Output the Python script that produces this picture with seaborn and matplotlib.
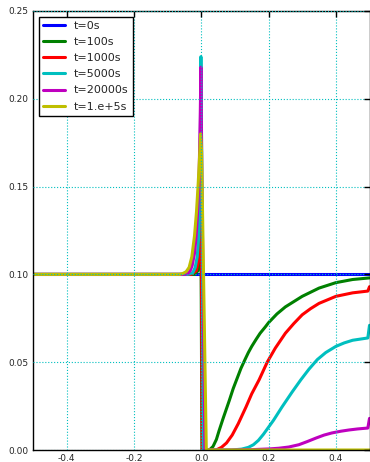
import matplotlib
matplotlib.use("Agg")
import matplotlib.pyplot as plt
import seaborn as sns
import pandas as pd

# series (x position, concentration)
labels = ["t=0s", "t=100s", "t=1000s", "t=5000s", "t=20000s", "t=1.e+5s"]
colors = ["#0000ff", "#008000", "#ff0000", "#00bfbf", "#bf00bf", "#bfbf00"]

x_t0 = [-0.5, 0.5]
y_t0 = [0.1, 0.1]

x_t100 = [-0.5, -0.02, -0.01, -0.005, -0.001, 0.002, 0.024, 0.035, 0.045, 0.053, 0.065,
          0.083, 0.095, 0.107, 0.118, 0.13, 0.14, 0.15, 0.163, 0.175, 0.19, 0.2, 0.225,
          0.25, 0.3, 0.35, 0.4, 0.45, 0.5]
y_t100 = [0.1, 0.1, 0.102, 0.107, 0.13, 0.0, 0.0, 0.002, 0.006, 0.011, 0.018,
          0.028, 0.035, 0.041, 0.0465, 0.0515, 0.0555, 0.059, 0.063, 0.0665, 0.070, 0.0725, 0.0775,
          0.0815, 0.0875, 0.0922, 0.0953, 0.0971, 0.098]

x_t1000 = [-0.5, -0.03, -0.015, -0.008, -0.004, -0.001, 0.003, 0.044, 0.06, 0.075, 0.092,
           0.11, 0.133, 0.15, 0.172, 0.196, 0.22, 0.25, 0.275, 0.3, 0.325, 0.35, 0.4,
           0.45, 0.495, 0.5]
y_t1000 = [0.1, 0.1, 0.102, 0.108, 0.125, 0.16, 0.0, 0.0, 0.0015, 0.004, 0.0085,
           0.015, 0.0245, 0.032, 0.040, 0.050, 0.058, 0.0665, 0.072, 0.077, 0.0805, 0.0835, 0.0875,
           0.0895, 0.0905, 0.093]

x_t5000 = [-0.5, -0.04, -0.025, -0.018, -0.012, -0.008, -0.005, -0.003, -0.001, 0.002, 0.007,
           0.09, 0.12, 0.14, 0.155, 0.17, 0.185, 0.2, 0.215, 0.24, 0.27, 0.296, 0.32,
           0.345, 0.37, 0.4, 0.425, 0.45, 0.495, 0.5]
y_t5000 = [0.1, 0.1, 0.101, 0.104, 0.11, 0.12, 0.14, 0.17, 0.224, 0.15, 0.0,
           0.0, 0.0005, 0.0015, 0.003, 0.0055, 0.009, 0.013, 0.017, 0.0245, 0.033, 0.040, 0.046,
           0.0515, 0.0555, 0.059, 0.061, 0.0625, 0.0638, 0.071]

x_t20000 = [-0.5, -0.05, -0.04, -0.033, -0.027, -0.02, -0.015, -0.01, -0.006, -0.003, -0.001,
            0.002, 0.011, 0.09, 0.15, 0.2, 0.23, 0.26, 0.29, 0.315, 0.341, 0.365, 0.388,
            0.415, 0.439, 0.465, 0.495, 0.5]
y_t20000 = [0.1, 0.1, 0.1005, 0.102, 0.105, 0.112, 0.122, 0.138, 0.16, 0.19, 0.218,
            0.15, 0.0, 0.0, 0.0002, 0.0006, 0.001, 0.0017, 0.003, 0.0048, 0.0068, 0.0085, 0.0097,
            0.0107, 0.0114, 0.012, 0.0125, 0.018]

x_t1e5 = [-0.5, -0.065, -0.055, -0.045, -0.036, -0.028, -0.02, -0.014, -0.009, -0.005,
          -0.002, 0.001, 0.015, 0.5]
y_t1e5 = [0.1, 0.1, 0.1005, 0.1015, 0.104, 0.11, 0.122, 0.136, 0.152, 0.167,
          0.18, 0.17, 0.0, 0.0]

xs = [x_t0, x_t100, x_t1000, x_t5000, x_t20000, x_t1e5]
ys = [y_t0, y_t100, y_t1000, y_t5000, y_t20000, y_t1e5]

x_ticks = [-0.4, -0.2, 0.0, 0.2, 0.4]
y_ticks = [0.0, 0.05, 0.10, 0.15, 0.20, 0.25]

sns.set_style("white")
plt.rcParams["font.family"] = ["DejaVu Sans"]
plt.rcParams["axes.unicode_minus"] = False

fig = plt.figure(figsize=(3.7, 4.62), dpi=100)
ax = fig.add_axes([33 / 370, 12 / 462, 336.5 / 370, 439 / 462])

for lab, col, x, y in zip(labels, colors, xs, ys):
    d = pd.DataFrame({"x": x, "y": y})
    sns.lineplot(data=d, x="x", y="y", ax=ax, color=col, lw=2.2, label=lab,
                 sort=False, estimator=None)

ax.set_xlim(-0.5, 0.5)
ax.set_ylim(0, 0.25)
ax.set_xticks(x_ticks)
ax.set_yticks(y_ticks)
ax.set_xticklabels(["%.1f" % v for v in x_ticks])
ax.set_yticklabels(["%.2f" % v for v in y_ticks])
ax.set_xlabel("")
ax.set_ylabel("")
ax.tick_params(direction="in", length=4, width=1, top=True, right=True,
               labelsize=6.5, color="black", pad=3)
for s in ax.spines.values():
    s.set_color("black")
    s.set_linewidth(1.0)
ax.grid(True, color="#00bfbf", linestyle=":", linewidth=0.8)
ax.set_axisbelow(False)

leg = ax.legend(loc="upper left", fontsize=8, frameon=True, fancybox=False,
                borderaxespad=0.5, handlelength=2.0, labelspacing=0.55,
                handletextpad=0.8, borderpad=0.4)
leg.get_frame().set_edgecolor("black")
leg.get_frame().set_linewidth(1.0)
leg.get_frame().set_alpha(1.0)

fig.savefig("out.png", dpi=100)
